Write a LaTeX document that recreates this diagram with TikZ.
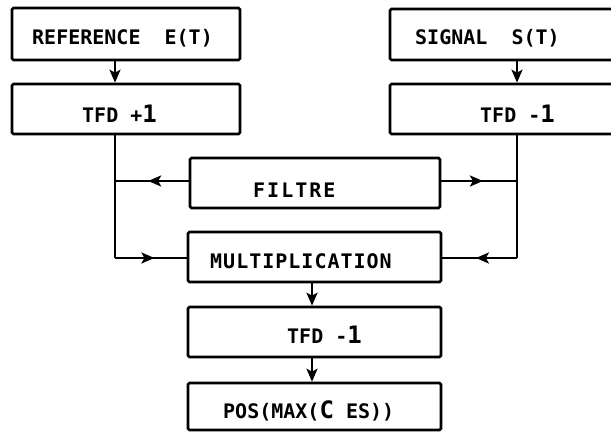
\documentclass[tikz,border=0pt]{standalone}
\usepackage{fontspec}
\setmonofont{DejaVu Sans Mono}
\usetikzlibrary{arrows.meta,decorations.markings}
\tikzset{
  box/.style={draw, line width=2.6pt, rounded corners=1.5pt, inner sep=0pt},
  lbl/.style={anchor=base west, inner sep=0pt, font=\fontsize{20}{24}\ttfamily\bfseries},
  conn/.style={line width=2.4pt},
  endarrow/.style={conn, -{Stealth[length=13pt,width=11pt,inset=3pt]}},
  midarrow/.style={conn, postaction={decorate}, decoration={markings,
      mark=at position 0.55 with {\arrow{Stealth[length=13pt,width=11pt,inset=3pt]}}}}
}
\begin{document}
\begin{tikzpicture}[x=1pt,y=-1pt]
\useasboundingbox (0,0) rectangle (611,433);
\begin{scope}
\clip (0,0) rectangle (611,433);
% boxes
\node[box, minimum width=228pt, minimum height=52pt] (ref)  at (126,34) {};
\node[box, minimum width=228pt, minimum height=50pt] (tfdp) at (126,109) {};
\node[box, minimum width=235pt, minimum height=51pt] (sig)  at (507.5,34.5) {};
\node[box, minimum width=235pt, minimum height=50pt] (tfdm) at (507.5,109) {};
\node[box, minimum width=250pt, minimum height=50pt] (filt) at (315,183) {};
\node[box, minimum width=253pt, minimum height=50pt] (mult) at (314.5,257) {};
\node[box, minimum width=253pt, minimum height=50pt] (tfdc) at (314.5,332) {};
\node[box, minimum width=253pt, minimum height=47pt] (pos)  at (314.5,406.5) {};
% labels
\node[lbl] (reft)  at (32,45)   {REFERENCE\ \ E(T)};
\node[lbl] (tfdpt) at (82,123)  {TFD\ +{\fontsize{24}{24}\selectfont 1}};
\node[lbl] (sigt)  at (415,45)  {SIGNAL\ \ S(T)};
\node[lbl] (tfdmt) at (480,123) {TFD\ -{\fontsize{24}{24}\selectfont 1}};
\node[lbl] (filtt) at (253,197) {\addfontfeature{LetterSpace=10}FILTRE};
\node[lbl] (multt) at (210,268) {\addfontfeature{LetterSpace=5}MULTIPLICATION};
\node[lbl] (tfdct) at (287,343) {TFD\ -{\fontsize{24}{24}\selectfont 1}};
\node[lbl] (post)  at (223,418) {POS(MAX({\fontsize{24}{24}\selectfont C}\ ES))};
% junction coordinates
\coordinate (jl) at (115,258);
\coordinate (jr) at (517,258);
\coordinate (fl) at (115,181);
\coordinate (fr) at (517,181);
\coordinate (cx) at (312,0);
% connectors
\draw[endarrow] (ref.south -| jl) -- (tfdp.north -| jl);
\draw[endarrow] (sig.south -| jr) -- (tfdm.north -| jr);
\draw[conn] (tfdp.south -| jl) -- (jl);
\draw[conn] (tfdm.south -| jr) -- (jr);
\draw[midarrow] (jl) -- (mult.west |- jl);
\draw[midarrow] (jr) -- (mult.east |- jr);
\draw[midarrow] (filt.west |- fl) -- (fl);
\draw[midarrow] (filt.east |- fr) -- (fr);
\draw[endarrow] (mult.south -| cx) -- (tfdc.north -| cx);
\draw[endarrow] (tfdc.south -| cx) -- (pos.north -| cx);
\end{scope}
\end{tikzpicture}
\end{document}
